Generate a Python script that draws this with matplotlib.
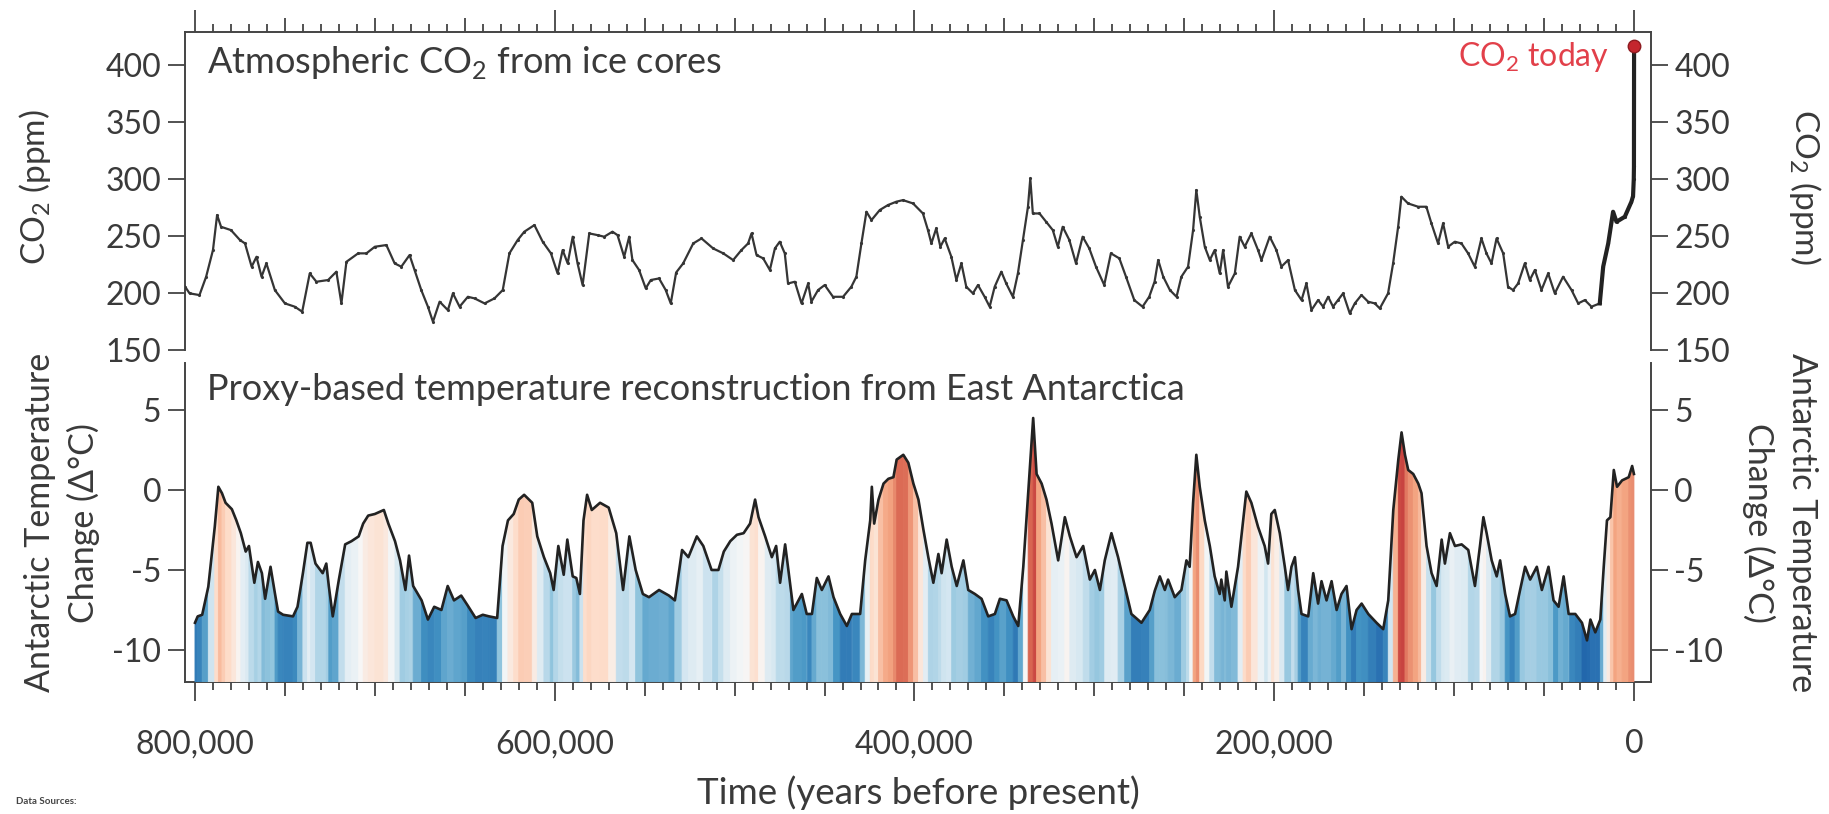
import numpy as np
import matplotlib
matplotlib.use('Agg')
import matplotlib.pyplot as plt
from matplotlib.collections import PolyCollection
from matplotlib.colors import Normalize
from matplotlib.ticker import FixedLocator, MultipleLocator

plt.rcParams['font.family'] = ['Lato', 'DejaVu Sans']
plt.rcParams['mathtext.fontset'] = 'custom'
plt.rcParams['mathtext.rm'] = 'Lato'
plt.rcParams['axes.unicode_minus'] = False

# Antarctic temperature change (deg C), age in kyr before present
temp_age = [800, 798.5, 796, 792.6, 789, 787, 785, 783, 779.5, 777, 774.5, 771.8, 770, 767, 765,
            762.8, 761, 758, 755.5, 753.8, 751, 745.5, 743, 740, 737.5, 735.7, 733, 729, 727, 725.6,
            723.4, 720, 716.5, 713, 709, 706.5, 703.7, 700, 695, 692.5, 688.8, 686, 683, 681, 678.7,
            674, 670.5, 667, 663, 659.5, 656, 652, 648.5, 644, 640, 636.5, 632, 629, 626, 622.8,
            620, 617, 612.5, 609.7, 606, 602.5, 600.6, 598, 595, 593, 590, 588, 586, 584, 582,
            579.4, 574.8, 570, 565.8, 562, 558.5, 555, 551, 547.6, 542, 536.5, 533.2, 529.2, 525.7, 521,
            517.4, 512.8, 509, 506, 502.4, 498.7, 495, 491.4, 488.6, 486.7, 483, 479.3, 476.9, 474.7, 471.9,
            469, 467.3, 462.6, 459.9, 457, 454.3, 451.5, 447.8, 445, 441.3, 437.6, 434.8, 430.2, 427.4, 424.6,
            423.7, 422.4, 420, 417.2, 414.5, 411.7, 409.9, 406.2, 403.4, 400.6, 397.8, 395, 392.3, 389.5, 386.7,
            384.9, 382.1, 379.3, 376.5, 372.8, 370.1, 366.4, 362.7, 359, 355.3, 352.5, 348.8, 345.1, 342.3, 339.5,
            336.8, 334, 332.1, 329.3, 326.6, 323.8, 320.1, 316.4, 313.6, 309.9, 306.2, 302.5, 299.7, 296.9, 294.2,
            290.5, 286.8, 283.1, 279.4, 273.8, 269.2, 266.4, 263.6, 260.8, 259, 255.3, 251.6, 248.8, 247, 245.1,
            243.3, 241.4, 238.6, 235.8, 233.1, 230.3, 229.4, 227.5, 226.6, 223.8, 220.1, 217.3, 215.5, 212.7, 209,
            205.3, 203.4, 201.6, 199.7, 196.9, 194.1, 192.3, 190.4, 188.5, 186.7, 184.8, 181.1, 178.3, 175.6, 173.7,
            170.9, 168.1, 165.3, 162.6, 159.8, 157, 154.2, 151.4, 147.7, 143.1, 139.4, 136.6, 133.8, 131, 129.2,
            127.3, 125.5, 122.7, 119.9, 118.1, 115.3, 112.5, 109.7, 106.9, 105.1, 102.3, 99.5, 95.8, 92.1, 88.4,
            85.6, 83.7, 81.9, 79.1, 76.3, 74.4, 71.6, 68.9, 66.1, 63.3, 60.5, 57.7, 54, 51.2, 47.5,
            44.7, 41.9, 39.1, 36.3, 32.6, 28.9, 26.1, 24.2, 21.5, 18.7, 16.8, 15, 13.1, 11.2, 9.4,
            6.6, 2.9, 1, 0]
temp_val = [-8.3, -7.9, -7.8, -6.05, -2.3, 0.2, -0.2, -0.8, -1.2, -1.9, -2.7, -3.85, -3.5, -5.8, -4.5,
            -5.2, -6.8, -4.8, -6.5, -7.6, -7.8, -7.9, -7.3, -5.2, -3.3, -3.3, -4.6, -5.2, -4.6, -6.0,
            -7.9, -5.6, -3.4, -3.2, -2.9, -2.1, -1.6, -1.5, -1.25, -2.1, -3.2, -4.4, -6.25, -4.1, -6.0,
            -6.9, -8.1, -7.3, -7.5, -6.0, -6.9, -6.6, -7.2, -8.0, -7.8, -7.9, -8.0, -3.5, -1.9, -1.5,
            -0.6, -0.3, -0.8, -2.9, -4.2, -5.2, -6.25, -3.5, -5.3, -3.1, -5.4, -5.5, -6.5, -1.9, -0.3,
            -1.25, -0.8, -1.1, -2.7, -6.25, -2.9, -5.0, -6.5, -6.7, -6.25, -6.6, -6.9, -3.75, -4.2, -2.9,
            -3.5, -5.0, -5.0, -3.85, -3.2, -2.8, -2.7, -2.1, -0.6, -1.7, -2.9, -4.2, -3.5, -5.8, -3.4,
            -6.0, -7.5, -6.5, -7.75, -7.75, -5.5, -6.25, -5.4, -6.7, -7.75, -8.5, -7.75, -7.75, -4.4, -1.9,
            0.2, -2.1, -0.6, 0.4, 0.7, 0.8, 1.9, 2.2, 1.7, 0.4, -0.6, -2.5, -4.2, -5.8, -4.0,
            -5.2, -3.1, -4.8, -6.0, -4.4, -6.25, -6.5, -6.8, -7.9, -7.75, -6.8, -6.9, -7.9, -8.5, -4.8,
            -0.2, 4.5, 1.0, 0.4, -0.6, -2.1, -4.4, -1.7, -2.9, -4.2, -3.5, -5.6, -5.0, -6.25, -4.4,
            -2.7, -4.2, -6.0, -7.75, -8.3, -7.5, -6.3, -5.4, -6.25, -5.6, -6.7, -6.25, -4.4, -4.8, -0.8,
            2.2, 0.2, -1.9, -3.5, -5.4, -6.5, -5.6, -6.9, -5.1, -7.3, -4.8, -1.9, -0.1, -0.8, -2.3,
            -3.5, -4.6, -1.5, -1.25, -2.7, -4.8, -6.25, -4.8, -4.2, -6.25, -7.75, -7.9, -5.2, -7.1, -5.7,
            -6.9, -5.7, -7.5, -6.5, -6.0, -8.7, -7.5, -7.1, -7.75, -8.3, -8.7, -6.9, -1.25, 1.9, 3.6,
            2.2, 1.25, 1.0, 0.4, -0.2, -3.5, -5.2, -6.0, -3.1, -4.6, -2.7, -3.5, -3.4, -3.75, -6.0,
            -3.5, -1.7, -2.7, -4.4, -5.4, -4.4, -6.5, -7.9, -7.75, -6.25, -4.8, -5.6, -4.8, -6.25, -4.8,
            -6.9, -7.3, -5.4, -7.75, -7.75, -8.3, -9.4, -8.1, -8.9, -8.1, -4.8, -1.9, -1.7, 1.25, 0.2,
            0.6, 0.8, 1.5, 1.0]

# atmospheric CO2 (ppm), age in kyr before present
co2_age = [805.5, 803, 797.5, 793.8, 790, 787.7, 785.5, 780, 775, 772.2, 768.5, 765.8, 763, 760.3, 755.6,
           750, 744.5, 740.4, 736.2, 732.5, 726, 721.4, 718.6, 715.8, 709.3, 704.7, 700, 693.6, 689, 685.3,
           680.7, 677.9, 674.2, 670.5, 667.7, 664, 659.4, 656.6, 652.9, 648.3, 644.6, 639, 633.5, 628.9, 625.2,
           620.6, 616.9, 611.3, 606.7, 602.1, 598.4, 595.6, 592.8, 590, 587.3, 584.5, 580.8, 576.2, 572.5, 567.9,
           565.1, 561.4, 558.6, 556.8, 553.1, 549.4, 546.6, 542, 538.3, 535.5, 532.5, 528.6, 523, 518.4, 511.9,
           506.3, 500.8, 496.2, 492.5, 490.6, 487.8, 484.1, 480.4, 477.6, 474.9, 472.1, 470.3, 466.5, 462.8, 459.1,
           457.3, 453.6, 449.9, 445.3, 439.7, 435.1, 432.3, 429.5, 426.7, 423.9, 419.3, 414.7, 410.1, 406.4, 400.8,
           395.3, 392.5, 390.6, 387.9, 385.6, 383.2, 379.5, 376.7, 373.9, 371.2, 367.5, 364.7, 361, 358.2, 355.4,
           351.7, 349, 345.3, 342.5, 339.7, 336.9, 335.6, 334.2, 330.5, 326.8, 323.1, 320.3, 317.6, 313.9, 310.2,
           306.5, 302.8, 299.1, 294.5, 290.8, 286.1, 282.4, 277.8, 273.2, 269.5, 266.5, 264.5, 261.7, 258, 254.3,
           251.6, 247.9, 245.1, 243.3, 241.4, 238.6, 235.8, 233.1, 230.3, 228.4, 225.7, 221.9, 219.2, 216.4, 212.7,
           209, 207.1, 202.5, 198.8, 196, 192.3, 188.5, 184.8, 182.1, 179.3, 175.6, 172.8, 170, 167.3, 164.5,
           161.7, 158, 155.2, 151.5, 147.8, 144.1, 141.3, 136.7, 133.9, 131.1, 129.3, 125.6, 120, 115.4, 112.6,
           108.9, 106.1, 103.3, 99.6, 95.9, 92.2, 88.5, 84.8, 82, 79.2, 76.4, 72.7, 70, 67.2, 64.4,
           60.7, 57.9, 55.1, 51.4, 47.7, 44, 39.4, 34.7, 31, 27.3, 23.6, 19, 17.1, 14.3, 11.6,
           9.7, 5.1, 1.4, 0.5, 0.1, 0.0, -0.07]
co2_val = [205.5, 199.7, 198.2, 214.3, 237.7, 268.4, 258.1, 255.2, 246.5, 243.5, 223.1, 231.8, 214.3, 226, 202.6,
           190.9, 188, 183.6, 217.2, 209.9, 211.4, 218.7, 190.9, 227.4, 234.8, 234.8, 240.6, 242.1, 226, 223.1,
           233.3, 220.2, 202.6, 188, 174.8, 192.4, 185, 199.7, 188, 196.7, 195.3, 190.9, 195.3, 202.6, 234.8,
           246.5, 253.8, 259.6, 245, 234.8, 217.2, 237.7, 226, 249.4, 226, 207, 252.3, 250.8, 249.4, 253.8,
           250.8, 231.8, 249.4, 228.9, 220.2, 204.1, 211.4, 212.8, 202.6, 190.9, 218, 226, 243.5, 247.9, 239.1,
           234.8, 228.9, 237.7, 243.5, 252.3, 233.3, 230.4, 220.2, 239.1, 245, 234.8, 208.4, 209.9, 190.9, 208.4,
           192.4, 202.6, 207, 196.7, 196.7, 205.5, 214.3, 243.5, 271.3, 264, 272.8, 277.2, 280.1, 281.5, 278.6,
           269.8, 255.2, 243.5, 256.7, 240.6, 247.9, 231.8, 211.4, 226, 205.5, 199.7, 207, 196.7, 188, 205.5,
           218.7, 208.4, 196.7, 217.2, 246.5, 275.7, 300.5, 269.8, 269.8, 262.5, 255.2, 240.6, 258.1, 246.5, 226,
           249.4, 239.1, 223.1, 207, 234.8, 230.4, 214.3, 193.8, 188, 196.7, 210, 228.9, 214.3, 202.6, 196.7,
           214.3, 223.1, 255.2, 290.3, 266.9, 240.6, 228.9, 237.7, 217.2, 237.7, 205.5, 217.2, 249.4, 240.6, 252.3,
           237.7, 228.9, 249.4, 237.7, 223.1, 228.9, 202.6, 193.8, 208.4, 185, 193.8, 188, 196.7, 188, 193.8,
           199.7, 182.1, 190.9, 198.2, 192.4, 190.9, 186.5, 199.7, 226, 258.1, 284.5, 278.6, 275.7, 275.7, 261.1,
           243.5, 261.1, 240.6, 245, 243.5, 234.8, 223.1, 247.9, 234.8, 226, 247.9, 234.8, 205.5, 202.6, 208.4,
           226, 211.4, 220.2, 202.6, 217.2, 199.7, 214.3, 202.6, 190.9, 193.8, 188, 190.9, 223.1, 243.5, 271.3,
           262.5, 266.9, 280.1, 285, 300, 311, 417]

today_age = -0.07
today_co2 = 417

x_ticks = [800000, 600000, 400000, 200000, 0]
x_labels = ['800,000', '600,000', '400,000', '200,000', '0']
co2_ticks = [150, 200, 250, 300, 350, 400]
temp_ticks = [-10, -5, 0, 5]

ink = '#3a3a3a'

fig = plt.figure(figsize=(18.29, 8.14), dpi=100)
ax1 = fig.add_axes([0.1011, 0.570, 0.8015, 0.3907])
ax2 = fig.add_axes([0.1011, 0.1622, 0.8015, 0.3919])

# --- CO2 panel
ca = np.array(co2_age) * 1000
cv = np.array(co2_val)
ax1.plot(ca, cv, color='#353535', lw=1.6, marker='.', ms=2.5, zorder=3)
recent = ca <= 20000
ax1.plot(ca[recent], cv[recent], color='#222222', lw=3, zorder=3)
ax1.plot([today_age * 1000], [today_co2], 'o', color='#c4262e', mec='#8e1b20', ms=9, zorder=5)
ax1.text(13900, 399, 'CO$_\\mathregular{2}$ today', color='#e2404a', fontsize=23,
         ha='right', va='baseline')
ax1.set_ylim(150, 429)

# --- temperature panel, fill coloured by temperature
ta = np.array(temp_age) * 1000
tv = np.array(temp_val)
ybot = -12
norm = Normalize(-10.5, 5.5)
cmap = plt.get_cmap('RdBu_r')
polys = [[(ta[i], ybot), (ta[i], tv[i]), (ta[i + 1], tv[i + 1]), (ta[i + 1], ybot)]
         for i in range(len(ta) - 1)]
cols = cmap(norm((tv[:-1] + tv[1:]) / 2))
pc = PolyCollection(polys, facecolors=cols, edgecolors=cols, linewidths=0.6, zorder=3)
ax2.add_collection(pc)
ax2.plot(ta, tv, color='#222222', lw=1.9, zorder=4)
ax2.set_ylim(ybot, 7.94)

for ax in (ax1, ax2):
    ax.set_xlim(805600, -9400)
    ax.xaxis.set_major_locator(FixedLocator(np.arange(0, 800001, 50000)))
    ax.xaxis.set_minor_locator(MultipleLocator(10000))
    ax.tick_params(axis='both', which='both', direction='out', color='#444444',
                   labelcolor=ink, labelsize=23, width=1.3)
    ax.tick_params(axis='y', left=True, right=True, labelleft=True, labelright=True,
                   length=12, pad=5)
    ax.tick_params(axis='x', which='major', length=10)
    ax.tick_params(axis='x', which='minor', length=5.5)
    for s in ax.spines.values():
        s.set_color('#444444')
        s.set_linewidth(1.4)

ax1.spines['bottom'].set_visible(False)
ax2.spines['top'].set_visible(False)
ax1.set_yticks(co2_ticks)
ax2.set_yticks(temp_ticks)
ax1.tick_params(axis='x', which='both', bottom=False, top=True, labelbottom=False, labeltop=False)
ax2.tick_params(axis='x', which='both', bottom=True, top=False, labelbottom=True, pad=24)

lab = {t: l for t, l in zip(x_ticks, x_labels)}
ax1.set_xticklabels([''] * 17)
ax2.set_xticklabels([lab.get(int(v), '') for v in np.arange(0, 800001, 50000)])

# longer ticks at the labelled positions
for t in ax1.xaxis.get_major_ticks():
    if int(round(t.get_loc())) in lab:
        t.tick2line.set_markersize(16)
for t in ax2.xaxis.get_major_ticks():
    if int(round(t.get_loc())) in lab:
        t.tick1line.set_markersize(14)

# panel titles and axis labels
fig.text(0.1132, 0.9103, 'Atmospheric CO$_\\mathregular{2}$ from ice cores', fontsize=26,
         color=ink, va='baseline')
fig.text(0.1132, 0.5086, 'Proxy-based temperature reconstruction from East Antarctica',
         fontsize=26, color=ink, va='baseline')

co2_label = 'CO$_\\mathregular{2}$ (ppm)'
temp_label = 'Antarctic Temperature\nChange (\u0394\u00b0C)'
fig.text(0.019, 0.77, co2_label, rotation=90, ha='center', va='center', fontsize=24, color=ink)
fig.text(0.987, 0.77, co2_label, rotation=270, ha='center', va='center', fontsize=24, color=ink)
fig.text(0.034, 0.358, temp_label, rotation=90, ha='center', va='center', fontsize=24.5,
         color=ink, linespacing=1.4, multialignment='center')
fig.text(0.973, 0.358, temp_label, rotation=270, ha='center', va='center', fontsize=24.5,
         color=ink, linespacing=1.4, multialignment='center')
fig.text(0.502, 0.026, 'Time (years before present)', ha='center', va='center',
         fontsize=26.5, color=ink)
fig.text(0.009, 0.012, 'Data Sources:', fontsize=7, fontweight='bold', color='#444444')

fig.savefig('out.png', dpi=100, facecolor='white')
